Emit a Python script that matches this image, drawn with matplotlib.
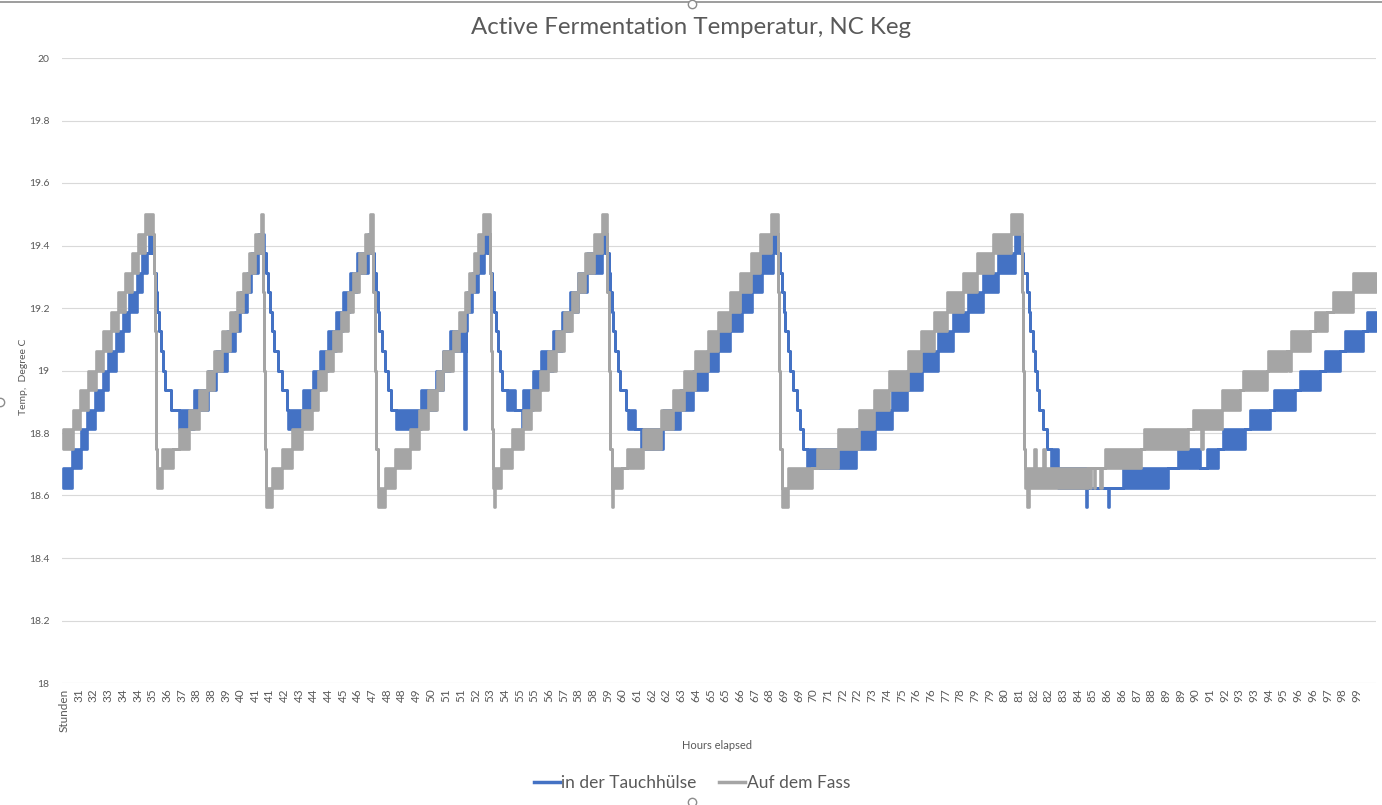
import matplotlib
matplotlib.use("Agg")
import matplotlib.pyplot as plt
from matplotlib.lines import Line2D

plt.rcParams["font.family"] = ["Lato", "DejaVu Sans"]

titel = "Active Fermentation Temperatur, NC Keg"
serien = ["in der Tauchhülse", "Auf dem Fass"]
y_ticks = [18.0, 18.2, 18.4, 18.6, 18.8, 19.0, 19.2, 19.4, 19.6, 19.8, 20.0]
y_labels = ["18", "18.2", "18.4", "18.6", "18.8", "19", "19.2", "19.4", "19.6", "19.8", "20"]

# Kategorienbeschriftung wie im Original (Stunden, gerundet)
x_labels = ["Stunden", "31", "32", "33", "34", "34", "35", "36", "37", "38", "38", "39", "40",
            "41", "41", "42", "43", "44", "44", "45", "46", "47", "48", "48", "49", "50", "51",
            "51", "52", "53", "54", "55", "55", "56", "57", "58", "58", "59", "60", "61", "62",
            "62", "63", "64", "65", "65", "66", "67", "68", "69", "69", "70", "71", "72", "72",
            "73", "74", "75", "76", "76", "77", "78", "79", "79", "80", "81", "82", "82", "83",
            "84", "85", "86", "86", "87", "88", "89", "89", "90", "91", "92", "93", "93", "94",
            "95", "96", "96", "97", "98", "99"]

# Sensor hat 1/16 Grad Aufloesung -> Messwerte springen zwischen zwei Stufen.
# Jede Stufe: Beginn (Position auf der Kategorienachse), untere und obere Temperatur
blau_x = [
    -0.05, 0.52, 1.14, 1.59, 2.11, 2.63, 3.02, 3.54, 4.00, 4.45, 4.95, 5.29, 5.67, 5.79,
    5.97, 6.13, 6.23, 6.33, 6.43, 6.57, 6.71, 6.88, 7.25,
    7.83, 8.85, 9.80, 10.35, 11.10, 11.64, 12.01, 12.42, 12.76, 13.21,
    13.58, 13.72, 13.85, 13.99, 14.14, 14.32, 14.55, 14.82, 15.16,
    15.27, 16.29, 16.95, 17.43, 17.97, 18.52, 18.99, 19.47, 19.95, 20.69,
    20.97, 21.12, 21.24, 21.34, 21.47, 21.65, 21.85, 22.06, 22.26,
    22.58, 24.30, 25.32, 25.80, 26.28, 27.26, 27.33, 27.43, 27.77, 28.20, 28.59,
    28.86, 29.00, 29.14, 29.27, 29.41, 29.54, 29.68, 29.82, 30.14, 30.70, 31.16,
    31.25, 31.93, 32.47, 33.31, 33.88, 34.45, 35.01, 35.58, 36.60,
    36.90, 37.07, 37.17, 37.28, 37.39, 37.51, 37.73, 37.85, 38.26, 38.41, 38.87,
    39.28, 40.80, 41.93, 42.84, 43.75, 44.54, 45.34, 46.13, 46.81, 47.50, 48.28,
    48.54, 48.74, 48.88, 48.98, 49.08, 49.25, 49.42, 49.63, 49.90, 50.10, 50.33,
    50.56, 53.91, 55.21, 56.34, 57.37, 58.39, 59.52, 60.52, 61.56, 62.58, 63.58, 64.74,
    65.15, 65.28, 65.56, 65.66, 65.79, 65.96, 66.10, 66.20, 66.37, 66.64, 66.92,
    67.19, 67.69, 69.57, 69.66, 71.07, 71.16, 72.11, 75.17, 75.85, 77.33, 77.79,
    78.58, 78.92, 80.40, 80.74, 82.10, 82.39, 83.80, 84.14, 85.50, 85.84, 86.86,
    87.20, 88.45, 88.68,
]
blau_lo = [
    18.625, 18.6875, 18.75, 18.8125, 18.875, 18.9375, 19.0, 19.0625, 19.125, 19.1875, 19.25, 19.3125, 19.375, 19.375,
    19.375, 19.3125, 19.25, 19.1875, 19.125, 19.0625, 19.0, 18.9375, 18.875,
    18.8125, 18.875, 18.9375, 19.0, 19.0625, 19.125, 19.1875, 19.25, 19.3125, 19.375,
    19.375, 19.3125, 19.25, 19.1875, 19.125, 19.0625, 19.0, 18.9375, 18.875,
    18.8125, 18.875, 18.9375, 19.0, 19.0625, 19.125, 19.1875, 19.25, 19.3125, 19.375,
    19.375, 19.3125, 19.25, 19.1875, 19.125, 19.0625, 19.0, 18.9375, 18.875,
    18.8125, 18.875, 18.9375, 19.0, 19.0625, 18.8125, 19.125, 19.1875, 19.25, 19.3125, 19.375,
    19.375, 19.3125, 19.25, 19.1875, 19.125, 19.0625, 19.0, 18.9375, 18.875, 18.875, 18.8125,
    18.875, 18.9375, 19.0, 19.0625, 19.125, 19.1875, 19.25, 19.3125, 19.375,
    19.375, 19.3125, 19.25, 19.1875, 19.125, 19.0625, 19.0, 18.9375, 18.875, 18.8125, 18.8125,
    18.75, 18.8125, 18.875, 18.9375, 19.0, 19.0625, 19.125, 19.1875, 19.25, 19.3125, 19.375,
    19.375, 19.3125, 19.25, 19.1875, 19.125, 19.0625, 19.0, 18.9375, 18.875, 18.8125, 18.75,
    18.6875, 18.75, 18.8125, 18.875, 18.9375, 19.0, 19.0625, 19.125, 19.1875, 19.25, 19.3125, 19.375,
    19.375, 19.3125, 19.25, 19.1875, 19.125, 19.0625, 19.0, 18.9375, 18.875, 18.8125, 18.75,
    18.6875, 18.625, 18.5625, 18.625, 18.5625, 18.625, 18.625, 18.6875, 18.6875, 18.6875, 18.6875,
    18.75, 18.75, 18.8125, 18.8125, 18.875, 18.875, 18.9375, 18.9375, 19.0, 19.0, 19.0625,
    19.0625, 19.125, 19.125,
]
blau_hi = [
    18.6875, 18.75, 18.8125, 18.875, 18.9375, 19.0, 19.0625, 19.125, 19.1875, 19.25, 19.3125, 19.375, 19.375, 19.4375,
    19.375, 19.3125, 19.25, 19.1875, 19.125, 19.0625, 19.0, 18.9375, 18.875,
    18.875, 18.9375, 19.0, 19.0625, 19.125, 19.1875, 19.25, 19.3125, 19.375, 19.4375,
    19.375, 19.3125, 19.25, 19.1875, 19.125, 19.0625, 19.0, 18.9375, 18.875,
    18.875, 18.9375, 19.0, 19.0625, 19.125, 19.1875, 19.25, 19.3125, 19.375, 19.4375,
    19.375, 19.3125, 19.25, 19.1875, 19.125, 19.0625, 19.0, 18.9375, 18.875,
    18.875, 18.9375, 19.0, 19.0625, 19.125, 19.0625, 19.1875, 19.25, 19.3125, 19.375, 19.4375,
    19.375, 19.3125, 19.25, 19.1875, 19.125, 19.0625, 19.0, 18.9375, 18.9375, 18.875, 18.875,
    18.9375, 19.0, 19.0625, 19.125, 19.1875, 19.25, 19.3125, 19.375, 19.4375,
    19.375, 19.3125, 19.25, 19.1875, 19.125, 19.0625, 19.0, 18.9375, 18.875, 18.875, 18.8125,
    18.8125, 18.875, 18.9375, 19.0, 19.0625, 19.125, 19.1875, 19.25, 19.3125, 19.375, 19.4375,
    19.375, 19.3125, 19.25, 19.1875, 19.125, 19.0625, 19.0, 18.9375, 18.875, 18.8125, 18.75,
    18.75, 18.8125, 18.875, 18.9375, 19.0, 19.0625, 19.125, 19.1875, 19.25, 19.3125, 19.375, 19.4375,
    19.375, 19.3125, 19.25, 19.1875, 19.125, 19.0625, 19.0, 18.9375, 18.875, 18.8125, 18.75,
    18.75, 18.6875, 18.625, 18.625, 18.625, 18.625, 18.6875, 18.6875, 18.75, 18.6875, 18.75,
    18.75, 18.8125, 18.8125, 18.875, 18.875, 18.9375, 18.9375, 19.0, 19.0, 19.0625, 19.0625,
    19.125, 19.125, 19.1875,
]

grau_x = [
    -0.05, 0.63, 1.09, 1.61, 2.16, 2.68, 3.20, 3.70, 4.15, 4.65, 5.06, 5.51,
    6.08, 6.13, 6.19, 6.25, 6.28, 6.31, 6.69, 7.44,
    7.83, 8.51, 9.16, 9.71, 10.23, 10.74, 11.30, 11.76, 12.21, 12.61, 13.00,
    13.38, 13.51, 13.58, 13.65, 13.72,
    14.14, 14.81, 15.54, 16.20, 16.86, 17.31, 17.81, 18.33, 18.86, 19.31, 19.69, 20.08, 20.49,
    20.83, 21.03, 21.14, 21.24, 21.35,
    21.85, 22.53, 23.52, 24.17, 24.80, 25.37, 25.80, 26.48, 26.89, 27.30, 27.57, 27.88, 28.18, 28.52,
    29.00, 29.07, 29.14, 29.20, 29.27, 29.36,
    29.75, 30.48, 31.21, 31.79, 32.40, 32.97, 33.49, 34.04, 34.55, 35.01, 35.47, 36.10, 36.60,
    36.94, 37.07, 37.17, 37.28, 37.39, 37.96, 38.31,
    39.41, 40.61, 41.42, 42.21, 42.95, 43.81, 44.52, 45.34, 46.00, 46.77, 47.41, 48.13,
    48.58, 48.67, 48.76, 48.86, 49.25, 50.90, 51.24,
    52.71, 54.12, 55.14, 56.16, 57.42, 58.37, 59.22, 60.14, 61.20, 62.18, 63.23, 64.45,
    65.24, 65.30, 65.37, 65.42, 65.57, 65.66, 66.05, 66.15, 66.62, 66.75, 69.73,
    69.86, 69.93, 70.14, 70.21, 70.55, 70.63, 70.86, 73.31, 73.54, 76.49,
    76.87, 77.42, 77.50, 78.81, 80.05, 80.28, 81.87, 81.98, 83.23, 83.41, 83.49, 84.82, 85.16, 85.96, 86.41,
    87.77,
]
grau_lo = [
    18.75, 18.8125, 18.875, 18.9375, 19.0, 19.0625, 19.125, 19.1875, 19.25, 19.3125, 19.375, 19.4375,
    19.4375, 19.3125, 19.125, 18.9375, 18.75, 18.625, 18.6875, 18.75,
    18.75, 18.8125, 18.875, 18.9375, 19.0, 19.0625, 19.125, 19.1875, 19.25, 19.3125, 19.375,
    19.375, 19.25, 19.0, 18.75, 18.5625,
    18.625, 18.6875, 18.75, 18.8125, 18.875, 18.9375, 19.0, 19.0625, 19.125, 19.1875, 19.25, 19.3125, 19.375,
    19.375, 19.25, 19.0, 18.75, 18.5625,
    18.625, 18.6875, 18.75, 18.8125, 18.875, 18.9375, 19.0, 19.0625, 19.125, 19.1875, 19.25, 19.3125, 19.375, 19.4375,
    19.3125, 19.0625, 18.8125, 18.625, 18.5625, 18.625,
    18.6875, 18.75, 18.8125, 18.875, 18.9375, 19.0, 19.0625, 19.125, 19.1875, 19.25, 19.3125, 19.375, 19.4375,
    19.25, 19.0, 18.75, 18.5625, 18.625, 18.6875, 18.6875,
    18.75, 18.8125, 18.875, 18.9375, 19.0, 19.0625, 19.125, 19.1875, 19.25, 19.3125, 19.375, 19.4375,
    19.25, 19.0, 18.75, 18.5625, 18.625, 18.6875, 18.6875,
    18.75, 18.8125, 18.875, 18.9375, 19.0, 19.0625, 19.125, 19.1875, 19.25, 19.3125, 19.375, 19.4375,
    19.25, 19.0, 18.75, 18.625, 18.5625, 18.625, 18.625, 18.625, 18.625, 18.625, 18.6875,
    18.625, 18.6875, 18.625, 18.6875, 18.625, 18.6875, 18.6875, 18.75, 18.75, 18.8125,
    18.8125, 18.75, 18.8125, 18.875, 18.9375, 18.9375, 19.0, 19.0, 19.0625, 19.0, 19.0625, 19.125, 19.125, 19.1875, 19.1875,
    19.25,
]
grau_hi = [
    18.8125, 18.875, 18.9375, 19.0, 19.0625, 19.125, 19.1875, 19.25, 19.3125, 19.375, 19.4375, 19.5,
    19.4375, 19.3125, 19.125, 18.9375, 18.75, 18.6875, 18.75, 18.75,
    18.8125, 18.875, 18.9375, 19.0, 19.0625, 19.125, 19.1875, 19.25, 19.3125, 19.375, 19.4375,
    19.5, 19.25, 19.0, 18.75, 18.625,
    18.6875, 18.75, 18.8125, 18.875, 18.9375, 19.0, 19.0625, 19.125, 19.1875, 19.25, 19.3125, 19.375, 19.4375,
    19.5, 19.25, 19.0, 18.75, 18.625,
    18.6875, 18.75, 18.8125, 18.875, 18.9375, 19.0, 19.0625, 19.125, 19.1875, 19.25, 19.3125, 19.375, 19.4375, 19.5,
    19.3125, 19.0625, 18.8125, 18.6875, 18.6875, 18.6875,
    18.75, 18.8125, 18.875, 18.9375, 19.0, 19.0625, 19.125, 19.1875, 19.25, 19.3125, 19.375, 19.4375, 19.5,
    19.25, 19.0, 18.75, 18.625, 18.6875, 18.6875, 18.75,
    18.8125, 18.875, 18.9375, 19.0, 19.0625, 19.125, 19.1875, 19.25, 19.3125, 19.375, 19.4375, 19.5,
    19.25, 19.0, 18.75, 18.625, 18.6875, 18.6875, 18.75,
    18.8125, 18.875, 18.9375, 19.0, 19.0625, 19.125, 19.1875, 19.25, 19.3125, 19.375, 19.4375, 19.5,
    19.25, 19.0, 18.75, 18.6875, 18.6875, 18.6875, 18.75, 18.6875, 18.75, 18.6875, 18.6875,
    18.6875, 18.6875, 18.6875, 18.6875, 18.6875, 18.6875, 18.75, 18.75, 18.8125, 18.8125,
    18.875, 18.875, 18.875, 18.9375, 18.9375, 19.0, 19.0, 19.0625, 19.0625, 19.0625, 19.125, 19.125, 19.1875, 19.1875, 19.25,
    19.3125,
]
x_ende = 89.31

blau = "#4472C4"
grau = "#A5A5A5"
textfarbe = "#595959"


def stufen(ax, xs, lo, hi, farbe):
    # Baender zwischen zwei Stufen, gleiche Werte ergeben eine duenne Linie
    x = list(xs) + [x_ende]
    y1 = list(lo) + [lo[-1]]
    y2 = list(hi) + [hi[-1]]
    ax.fill_between(x, y1, y2, step="post", facecolor=farbe, edgecolor=farbe,
                    linewidth=1.9, joinstyle="round")


fig = plt.figure(figsize=(13.82, 8.05), dpi=100)
ax = fig.add_axes([62 / 1382, 1 - 683 / 805, (1376 - 62) / 1382, (683 - 58) / 805])

stufen(ax, blau_x, blau_lo, blau_hi, blau)
stufen(ax, grau_x, grau_lo, grau_hi, grau)

ax.set_xlim(-0.14, x_ende)
ax.set_ylim(18, 20)
ax.set_yticks(y_ticks)
ax.set_yticklabels(y_labels)
ax.set_xticks(range(len(x_labels)))
ax.set_xticklabels(x_labels, rotation=90)
ax.tick_params(axis="both", length=0, labelcolor=textfarbe)
ax.tick_params(axis="y", pad=9, labelsize=7.5)
ax.tick_params(axis="x", pad=4, labelsize=8.5)
ax.grid(axis="y", color="#D9D9D9", linewidth=0.8)
ax.set_axisbelow(True)
for s in ax.spines.values():
    s.set_visible(False)

ax.set_ylabel("Temp,  Degree C", fontsize=7.5, color=textfarbe)
ax.yaxis.set_label_coords(-0.026, 0.49)
fig.text(717 / 1382, 1 - 745 / 805, "Hours elapsed", ha="center", va="center",
         fontsize=8, color=textfarbe)
fig.text(691 / 1382, 1 - 28 / 805, titel, ha="center", va="center",
         fontsize=17.3, color=textfarbe)

handles = [Line2D([], [], color=blau, linewidth=2.5), Line2D([], [], color=grau, linewidth=2.5)]
fig.legend(handles, serien, loc="center", bbox_to_anchor=(692 / 1382, 1 - 783 / 805),
           ncol=2, frameon=False, fontsize=12.5, labelcolor=textfarbe,
           handlelength=1.5, handletextpad=0.1, columnspacing=1.3)

# Rahmen und Anfasser des markierten Diagramms
fig.add_artist(Line2D([0, 1], [1 - 2 / 805, 1 - 2 / 805], color="#8C8C8C", linewidth=1.2,
                      transform=fig.transFigure))
for px, py in [(692, 4), (692, 802), (0, 402)]:
    fig.add_artist(Line2D([px / 1382], [1 - py / 805], marker="o", markersize=6,
                          markerfacecolor="white", markeredgecolor="#8C8C8C",
                          transform=fig.transFigure))

fig.savefig("out.png", dpi=100)
